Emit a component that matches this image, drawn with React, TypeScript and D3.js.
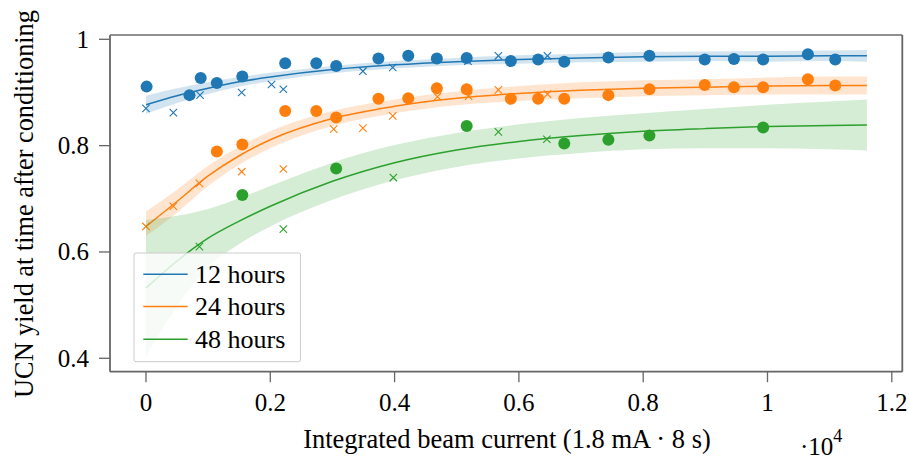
import React from "react";
import * as d3 from "d3";

// Plot frame (pixels)
const W = 909;
const H = 460;
const PLOT_LEFT = 110;
const PLOT_RIGHT = 902.3;
const PLOT_TOP = 35;
const PLOT_BOTTOM = 371.7;

// Axis ticks (x in units of 10^4)
const xTicks = [0, 0.2, 0.4, 0.6, 0.8, 1.0, 1.2];
const xTickLabels = ["0", "0.2", "0.4", "0.6", "0.8", "1", "1.2"];
const yTicks = [0.4, 0.6, 0.8, 1.0];
const yTickLabels = ["0.4", "0.6", "0.8", "1"];

// Measured yields (filled circles)
const blueDotX = [0.001, 0.07, 0.088, 0.114, 0.155, 0.224, 0.274, 0.306, 0.374, 0.422, 0.468, 0.516, 0.587, 0.631, 0.673, 0.744, 0.81, 0.899, 0.946, 0.993, 1.065, 1.109];
const blueDotY = [0.911, 0.895, 0.927, 0.918, 0.93, 0.955, 0.955, 0.95, 0.964, 0.969, 0.964, 0.965, 0.959, 0.962, 0.958, 0.966, 0.969, 0.962, 0.963, 0.962, 0.972, 0.962];
const orangeDotX = [0.114, 0.155, 0.224, 0.274, 0.306, 0.374, 0.422, 0.468, 0.516, 0.587, 0.631, 0.673, 0.744, 0.81, 0.899, 0.946, 0.993, 1.065, 1.109];
const orangeDotY = [0.789, 0.802, 0.865, 0.865, 0.853, 0.888, 0.889, 0.908, 0.906, 0.888, 0.888, 0.888, 0.895, 0.906, 0.914, 0.91, 0.91, 0.925, 0.913];
const greenDotX = [0.155, 0.306, 0.516, 0.673, 0.744, 0.81, 0.993];
const greenDotY = [0.707, 0.757, 0.837, 0.804, 0.811, 0.819, 0.834];

// Measured yields (crosses)
const blueCrossX = [0, 0.044, 0.087, 0.154, 0.202, 0.221, 0.349, 0.397, 0.518, 0.567, 0.646];
const blueCrossY = [0.87, 0.862, 0.895, 0.9, 0.915, 0.906, 0.94, 0.947, 0.959, 0.969, 0.969];
const orangeCrossX = [0, 0.044, 0.086, 0.154, 0.221, 0.302, 0.349, 0.397, 0.469, 0.519, 0.567, 0.646];
const orangeCrossY = [0.648, 0.686, 0.729, 0.751, 0.756, 0.831, 0.833, 0.856, 0.892, 0.893, 0.905, 0.897];
const greenCrossX = [0.086, 0.221, 0.398, 0.567, 0.645];
const greenCrossY = [0.61, 0.643, 0.74, 0.826, 0.812];

// Fitted saturation curves with confidence bands
const fitX = [0, 0.05, 0.1, 0.15, 0.2, 0.3, 0.4, 0.5, 0.6, 0.7, 0.8, 0.9, 1.0, 1.1, 1.16];
const blueFit = [0.877, 0.894, 0.908, 0.92, 0.929, 0.943, 0.952, 0.958, 0.962, 0.965, 0.967, 0.968, 0.968, 0.969, 0.969];
const blueLo = [0.86, 0.88, 0.897, 0.911, 0.921, 0.936, 0.945, 0.951, 0.954, 0.957, 0.958, 0.959, 0.958, 0.959, 0.958];
const blueHi = [0.894, 0.908, 0.919, 0.929, 0.937, 0.95, 0.959, 0.965, 0.97, 0.973, 0.976, 0.977, 0.978, 0.979, 0.98];
const orangeFit = [0.648, 0.695, 0.743, 0.781, 0.811, 0.851, 0.874, 0.889, 0.898, 0.904, 0.908, 0.91, 0.912, 0.913, 0.913];
const orangeLo = [0.63, 0.674, 0.724, 0.764, 0.795, 0.837, 0.861, 0.876, 0.884, 0.889, 0.893, 0.895, 0.896, 0.896, 0.896];
const orangeHi = [0.676, 0.717, 0.762, 0.798, 0.827, 0.865, 0.887, 0.902, 0.912, 0.919, 0.923, 0.925, 0.928, 0.93, 0.93];
const greenFit = [0.532, 0.583, 0.626, 0.658, 0.686, 0.733, 0.768, 0.792, 0.808, 0.819, 0.827, 0.832, 0.836, 0.838, 0.839];
const greenLo = [0.404, 0.498, 0.571, 0.615, 0.648, 0.698, 0.735, 0.76, 0.776, 0.786, 0.793, 0.795, 0.795, 0.793, 0.791];
const greenHi = [0.66, 0.668, 0.681, 0.701, 0.724, 0.768, 0.801, 0.824, 0.84, 0.852, 0.861, 0.869, 0.877, 0.883, 0.887];

const seriesNames = ["12 hours", "24 hours", "48 hours"];
const seriesColors = ["#1f77b4", "#ff7f0e", "#2ca02c"];

const series = [
  { dotX: blueDotX, dotY: blueDotY, crossX: blueCrossX, crossY: blueCrossY, fit: blueFit, lo: blueLo, hi: blueHi },
  { dotX: orangeDotX, dotY: orangeDotY, crossX: orangeCrossX, crossY: orangeCrossY, fit: orangeFit, lo: orangeLo, hi: orangeHi },
  { dotX: greenDotX, dotY: greenDotY, crossX: greenCrossX, crossY: greenCrossY, fit: greenFit, lo: greenLo, hi: greenHi },
];

const FONT = "'Liberation Serif', 'Times New Roman', serif";

export default function App() {
  const x = d3
    .scaleLinear()
    .domain([-0.0579, 1.2169])
    .range([PLOT_LEFT, PLOT_RIGHT]);
  const y = d3
    .scaleLinear()
    .domain([0.3748, 1.0081])
    .range([PLOT_BOTTOM, PLOT_TOP]);

  const line = d3
    .line<number>()
    .x((_, i) => x(fitX[i]))
    .y((d) => y(d))
    .curve(d3.curveMonotoneX);

  const bandArea = (lo: number[], hi: number[]) =>
    d3
      .area<number>()
      .x((_, i) => x(fitX[i]))
      .y0((_, i) => y(lo[i]))
      .y1((_, i) => y(hi[i]))
      .curve(d3.curveMonotoneX)(fitX) || "";

  const crossHalf = 3.7;

  const legendLeft = 134;
  const legendTop = 253;
  const legendRowY = [274.3, 306.5, 339.3];

  return (
    <svg
      width={W}
      height={H}
      style={{ position: "absolute", left: 0, top: 0, background: "#fff" }}
      fontFamily={FONT}
    >
      <defs>
        <clipPath id="plot-clip">
          <rect x={PLOT_LEFT} y={PLOT_TOP} width={PLOT_RIGHT - PLOT_LEFT} height={PLOT_BOTTOM - PLOT_TOP} />
        </clipPath>
      </defs>

      <g clipPath="url(#plot-clip)">
        {series.map((s, si) => (
          <g key={si}>
            <path d={bandArea(s.lo, s.hi)} fill={seriesColors[si]} fillOpacity={0.2} stroke="none" />
            <path d={line(s.fit) || ""} fill="none" stroke={seriesColors[si]} strokeWidth={1.5} />
            {s.dotX.map((dx, i) => (
              <circle key={"d" + i} cx={x(dx)} cy={y(s.dotY[i])} r={6} fill={seriesColors[si]} />
            ))}
            {s.crossX.map((cx, i) => {
              const px = x(cx);
              const py = y(s.crossY[i]);
              return (
                <path
                  key={"c" + i}
                  d={`M${px - crossHalf},${py - crossHalf}L${px + crossHalf},${py + crossHalf}M${px - crossHalf},${py + crossHalf}L${px + crossHalf},${py - crossHalf}`}
                  stroke={seriesColors[si]}
                  strokeWidth={1.1}
                  fill="none"
                />
              );
            })}
          </g>
        ))}
      </g>

      {/* frame */}
      <line x1={PLOT_LEFT} x2={PLOT_RIGHT} y1={PLOT_TOP} y2={PLOT_TOP} stroke="#222" strokeWidth={1.2} />
      <line x1={PLOT_RIGHT} x2={PLOT_RIGHT} y1={PLOT_TOP} y2={PLOT_BOTTOM} stroke="#666" strokeWidth={1.8} />
      <line x1={PLOT_LEFT} x2={PLOT_LEFT} y1={PLOT_TOP} y2={PLOT_BOTTOM} stroke="#666" strokeWidth={1.8} />
      <line x1={PLOT_LEFT} x2={PLOT_RIGHT} y1={PLOT_BOTTOM} y2={PLOT_BOTTOM} stroke="#666" strokeWidth={1.8} />

      {/* x axis */}
      {xTicks.map((t, i) => (
        <g key={"xt" + i}>
          <line x1={x(t)} x2={x(t)} y1={PLOT_BOTTOM} y2={PLOT_BOTTOM + 10.5} stroke="#666" strokeWidth={1.3} />
          <text x={x(t)} y={410.7} textAnchor="middle" fontSize={25} fill="#000">
            {xTickLabels[i]}
          </text>
        </g>
      ))}

      {/* y axis */}
      {yTicks.map((t, i) => (
        <g key={"yt" + i}>
          <line x1={PLOT_LEFT - 11} x2={PLOT_LEFT} y1={y(t)} y2={y(t)} stroke="#666" strokeWidth={1.3} />
          <text x={89} y={y(t) + 8.4} textAnchor="end" fontSize={25} fill="#000">
            {yTickLabels[i]}
          </text>
        </g>
      ))}

      <text x={507} y={448} textAnchor="middle" fontSize={26.5} fill="#000">
        Integrated beam current (1.8 mA · 8 s)
      </text>
      <text x={800} y={455} fontSize={25} fill="#000">
        ·10<tspan dy={-13} fontSize={18}>4</tspan>
      </text>
      <text
        transform={`translate(33,204) rotate(-90)`}
        textAnchor="middle"
        fontSize={26.3}
        fill="#000"
      >
        UCN yield at time after conditioning
      </text>

      {/* legend */}
      <rect
        x={legendLeft}
        y={legendTop}
        width={166.5}
        height={108.7}
        rx={2}
        fill="#fff"
        fillOpacity={0.8}
        stroke="#cccccc"
        strokeWidth={1}
      />
      {seriesNames.map((name, i) => (
        <g key={"lg" + i}>
          <line x1={143.3} x2={187.7} y1={legendRowY[i]} y2={legendRowY[i]} stroke={seriesColors[i]} strokeWidth={1.5} />
          <text x={195} y={legendRowY[i] + 8.6} fontSize={26} fill="#000">
            {name}
          </text>
        </g>
      ))}
    </svg>
  );
}
